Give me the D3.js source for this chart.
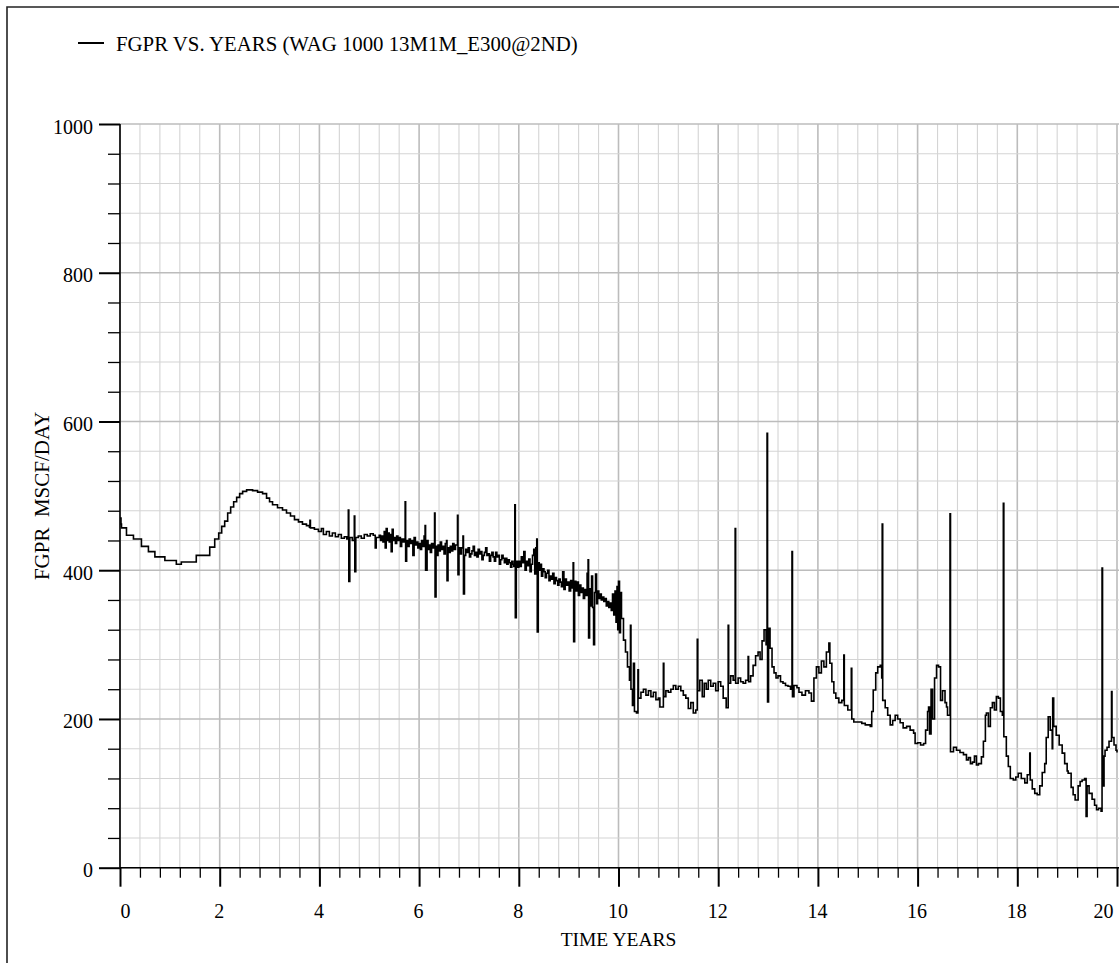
<!DOCTYPE html>
<html>
<head>
<meta charset="utf-8">
<script src="https://cdn.jsdelivr.net/npm/d3@7"></script>
<style>
  html, body { margin: 0; padding: 0; background: #fff; }
  svg { display: block; }
  text { font-family: "Liberation Serif", "Times New Roman", serif; fill: #000; }
</style>
</head>
<body>
<svg id="chart" width="1119" height="963"></svg>
<script>
// Tick definitions
const yearMajorTicks = [0, 2, 4, 6, 8, 10, 12, 14, 16, 18, 20];
const rateMajorTicks = [0, 200, 400, 600, 800, 1000];
const yearMinorStep = 0.4;
const rateMinorStep = 40;

const seriesLabel = "FGPR VS. YEARS (WAG 1000 13M1M_E300@2ND)";
const xTitle = "TIME YEARS";
const yTitle = "FGPR  MSCF/DAY";

// Field gas production rate: [time in years, rate in MSCF/DAY]
const fgprByYear = [
  [0.00,470],[0.02,462],[0.03,457],[0.13,447],[0.27,442],[0.43,432],[0.57,425],[0.70,418],
  [0.90,413],[1.13,408],[1.23,411],[1.53,420],[1.80,431],[1.90,442],[1.98,450],
  [2.04,459],[2.10,466],[2.16,477],[2.22,485],[2.28,492],[2.34,498],[2.40,503],[2.46,506],
  [2.54,508],[2.66,507],[2.76,505],[2.86,503],[2.94,497],[3.00,492],[3.06,488],
  [3.16,484],[3.26,481],[3.34,477],[3.42,473],[3.50,468],[3.58,465],[3.66,462],[3.74,460],
  [3.80,458],[3.81,467],[3.82,457],[3.90,455],[3.98,452],[4.04,456],[4.08,448],
  [4.14,452],[4.20,446],[4.26,450],[4.32,445],[4.38,448],[4.44,443],[4.50,445],[4.55,442],
  [4.58,481],[4.59,385],[4.61,444],[4.66,440],[4.70,473],[4.71,398],[4.73,444],
  [4.78,446],[4.84,443],[4.90,448],[4.96,446],[5.02,449],[5.08,447],[5.12,430],[5.14,444],
  [5.200,447],[5.225,440],[5.250,446],[5.275,438],[5.300,452],[5.320,430],[5.340,456],[5.360,440],
  [5.380,450],[5.400,438],[5.420,448],[5.440,425],[5.460,455],[5.480,440],[5.500,444],[5.525,436],
  [5.550,446],[5.575,440],[5.600,444],[5.625,432],[5.650,442],[5.675,438],[5.700,442],[5.720,492],
  [5.730,412],[5.750,440],[5.775,432],[5.800,442],[5.825,436],[5.850,440],[5.875,420],[5.900,444],
  [5.925,434],[5.950,438],[5.975,430],[6.000,436],[6.025,428],[6.050,440],[6.075,432],[6.100,446],
  [6.120,460],[6.130,400],[6.160,440],[6.180,428],[6.200,434],[6.225,424],[6.250,436],[6.280,430],
  [6.310,477],[6.320,364],[6.340,432],[6.360,420],[6.380,434],[6.400,426],[6.425,438],[6.450,428],
  [6.475,432],[6.500,422],[6.525,436],[6.550,440],[6.560,386],[6.580,430],[6.600,424],[6.625,432],
  [6.650,426],[6.675,436],[6.700,428],[6.730,434],[6.770,474],[6.780,394],[6.800,430],[6.825,422],
  [6.850,430],[6.880,446],[6.890,368],[6.910,420],[6.935,428],[6.960,424],[6.985,430],[7.010,418],
  [7.035,422],[7.060,426],[7.085,432],[7.110,420],[7.135,424],[7.160,418],[7.185,428],[7.210,422],
  [7.235,425],[7.260,414],[7.285,420],[7.310,424],[7.335,430],[7.360,420],[7.385,422],[7.410,412],
  [7.435,420],[7.460,424],[7.485,418],[7.510,412],[7.535,424],[7.560,418],[7.585,420],[7.610,408],
  [7.635,414],[7.660,420],[7.685,416],[7.710,410],[7.735,416],[7.760,408],[7.785,414],[7.810,410],
  [7.835,404],[7.860,412],[7.885,408],[7.900,405],[7.920,488],[7.930,336],[7.950,412],[7.975,404],
  [8.000,412],[8.025,405],[8.050,418],[8.075,410],[8.100,425],[8.125,400],[8.150,412],[8.175,406],
  [8.200,415],[8.225,398],[8.250,408],[8.275,420],[8.300,428],[8.320,395],[8.340,430],[8.360,442],
  [8.370,317],[8.390,410],[8.410,400],[8.430,408],[8.455,392],[8.480,402],[8.505,398],[8.530,390],
  [8.555,396],[8.580,400],[8.605,386],[8.630,392],[8.655,388],[8.680,396],[8.705,382],[8.730,390],
  [8.755,386],[8.780,380],[8.805,388],[8.830,384],[8.855,378],[8.880,398],[8.905,374],[8.930,388],
  [8.955,380],[8.980,384],[9.010,372],[9.040,386],[9.070,376],[9.090,410],[9.100,304],[9.120,385],
  [9.145,372],[9.170,384],[9.195,366],[9.220,380],[9.245,370],[9.270,376],[9.295,362],[9.320,374],
  [9.350,366],[9.370,396],[9.390,414],[9.400,309],[9.420,375],[9.440,352],[9.460,392],[9.480,350],
  [9.500,300],[9.520,370],[9.540,395],[9.560,355],[9.580,372],[9.605,362],[9.630,368],[9.655,360],
  [9.680,364],[9.705,358],[9.730,362],[9.755,352],[9.780,358],[9.805,350],[9.830,356],[9.855,346],
  [9.880,368],[9.905,340],[9.930,372],[9.950,330],[9.970,378],[9.985,320],[10.000,385],[10.020,316],
  [10.040,370],[10.060,335],[10.10,306],[10.14,290],
  [10.18,270],[10.22,252],[10.24,326],[10.25,240],[10.28,218],[10.30,275],[10.32,210],[10.36,208],
  [10.39,266],[10.40,228],[10.45,236],[10.50,240],[10.55,232],[10.60,238],[10.65,230],
  [10.70,236],[10.75,226],[10.80,228],[10.83,216],[10.90,275],[10.91,230],[10.95,238],[11.00,236],
  [11.05,240],[11.10,245],[11.15,240],[11.20,244],[11.25,238],[11.30,232],[11.35,228],
  [11.40,214],[11.45,222],[11.50,208],[11.55,212],[11.58,307],[11.59,238],[11.63,252],[11.68,230],
  [11.72,248],[11.76,240],[11.80,252],[11.85,244],[11.90,248],[11.95,238],[12.00,250],
  [12.05,244],[12.10,228],[12.16,215],[12.20,326],[12.21,248],[12.25,258],[12.30,252],[12.34,456],
  [12.35,248],[12.40,255],[12.45,250],[12.50,248],[12.55,252],[12.60,284],[12.61,250],
  [12.65,258],[12.70,272],[12.75,285],[12.80,290],[12.84,280],[12.88,305],[12.92,320],[12.96,300],
  [12.98,584],[12.99,223],[13.01,322],[13.04,295],[13.08,270],[13.12,262],[13.16,255],
  [13.20,258],[13.25,250],[13.30,248],[13.35,245],[13.40,244],[13.45,240],[13.48,425],[13.49,230],
  [13.52,245],[13.58,242],[13.62,236],[13.68,232],[13.75,238],[13.82,235],[13.87,224],
  [13.92,255],[13.97,270],[14.02,262],[14.07,278],[14.12,270],[14.17,290],[14.22,302],[14.24,275],
  [14.28,250],[14.32,235],[14.36,228],[14.42,222],[14.48,225],[14.52,286],[14.53,218],
  [14.60,212],[14.67,268],[14.68,200],[14.72,196],[14.80,196],[14.88,194],[14.95,192],[15.05,190],
  [15.08,210],[15.11,239],[15.16,262],[15.20,270],[15.25,272],[15.28,255],[15.29,462],
  [15.30,225],[15.35,215],[15.40,205],[15.45,192],[15.50,198],[15.55,205],[15.60,200],[15.65,195],
  [15.71,188],[15.78,190],[15.85,185],[15.92,181],[15.95,167],[16.00,168],[16.06,165],
  [16.12,167],[16.16,185],[16.20,210],[16.22,216],[16.24,180],[16.27,240],[16.30,200],[16.34,255],
  [16.38,272],[16.42,270],[16.46,225],[16.50,238],[16.55,222],[16.58,216],[16.60,205],
  [16.65,476],[16.66,156],[16.72,162],[16.78,158],[16.85,155],[16.92,152],[16.98,145],[17.02,148],
  [17.06,140],[17.10,142],[17.14,150],[17.18,138],[17.22,140],[17.28,149],[17.32,170],
  [17.36,205],[17.38,208],[17.42,190],[17.46,215],[17.50,222],[17.54,212],[17.58,230],[17.62,228],
  [17.66,210],[17.70,205],[17.72,490],[17.73,176],[17.78,150],[17.82,136],[17.86,120],
  [17.92,118],[17.97,122],[18.02,127],[18.08,120],[18.15,114],[18.20,125],[18.25,154],[18.26,118],
  [18.30,106],[18.35,100],[18.40,98],[18.45,110],[18.50,128],[18.55,140],[18.58,175],
  [18.62,203],[18.66,185],[18.70,160],[18.71,228],[18.73,190],[18.78,178],[18.84,165],[18.90,154],
  [18.95,140],[19.00,130],[19.02,127],[19.08,108],[19.12,98],[19.16,91],[19.22,110],
  [19.26,116],[19.30,118],[19.35,120],[19.38,69],[19.40,110],[19.44,100],[19.50,92],[19.55,84],
  [19.59,78],[19.63,80],[19.68,76],[19.70,403],[19.71,110],[19.74,150],[19.76,158],
  [19.80,162],[19.84,170],[19.89,237],[19.90,175],[19.94,165],[19.98,158],[20.00,155]
];

const series = fgprByYear.map(([t, v]) => ({ t, v }));

const svg = d3.select("#chart");
const W = 1119, H = 963;
const plotLeft = 120, plotRight = 1117, plotTop = 124, plotBottom = 867.7;

const x = d3.scaleLinear().domain([0, 20]).range([plotLeft, plotRight]);
const y = d3.scaleLinear().domain([0, 1000]).range([plotBottom, plotTop]);

// Outer frame
svg.append("path")
  .attr("d", `M7,${H + 5} V7 H${W + 5}`)
  .attr("fill", "none")
  .attr("stroke", "#222")
  .attr("stroke-width", 1.6);

// Grid
const yearGrid = d3.range(0, 20 + 1e-9, yearMinorStep);
const rateGrid = d3.range(0, 1000 + 1e-9, rateMinorStep);
const isMajorYear = t => Math.abs(t / 2 - Math.round(t / 2)) < 1e-6;
const isMajorRate = v => Math.abs(v / 200 - Math.round(v / 200)) < 1e-6;

const grid = svg.append("g");
grid.selectAll("line.vg").data(yearGrid).join("line")
  .attr("class", "vg")
  .attr("x1", d => x(d)).attr("x2", d => x(d))
  .attr("y1", plotTop).attr("y2", plotBottom)
  .attr("stroke", d => isMajorYear(d) ? "#bcbcbc" : "#d4d4d4")
  .attr("stroke-width", d => isMajorYear(d) ? 1.6 : 1.1);
grid.selectAll("line.hg").data(rateGrid).join("line")
  .attr("class", "hg")
  .attr("y1", d => y(d)).attr("y2", d => y(d))
  .attr("x1", plotLeft).attr("x2", W)
  .attr("stroke", d => isMajorRate(d) ? "#bcbcbc" : "#d4d4d4")
  .attr("stroke-width", d => isMajorRate(d) ? 1.6 : 1.1);

// Series line (stepped, as reported per timestep)
svg.append("defs").append("clipPath").attr("id", "plotClip")
  .append("rect").attr("x", plotLeft).attr("y", plotTop - 2)
  .attr("width", W - plotLeft).attr("height", plotBottom - plotTop + 4);

const line = d3.line()
  .x(d => x(d.t)).y(d => y(d.v))
  .curve(d3.curveStepAfter);
svg.append("path")
  .datum(series)
  .attr("clip-path", "url(#plotClip)")
  .attr("d", line)
  .attr("fill", "none")
  .attr("stroke", "#000")
  .attr("stroke-width", 1.6)
  .attr("stroke-linejoin", "miter");

// Axes: minor ticks
const yearMinor = yearGrid.filter(t => !isMajorYear(t));
const rateMinor = rateGrid.filter(v => !isMajorRate(v));

svg.append("g").attr("transform", `translate(0,${plotBottom})`)
  .call(d3.axisBottom(x).tickValues(yearMinor).tickSize(10).tickFormat(""))
  .call(g => g.select(".domain").remove())
  .call(g => g.selectAll("line").attr("stroke", "#000").attr("stroke-width", 1.3));

svg.append("g").attr("transform", `translate(${plotLeft},0)`)
  .call(d3.axisLeft(y).tickValues(rateMinor).tickSize(12).tickFormat(""))
  .call(g => g.select(".domain").remove())
  .call(g => g.selectAll("line").attr("stroke", "#000").attr("stroke-width", 1.3));

// Axes: major ticks and labels
const xAxis = svg.append("g").attr("transform", `translate(0,${plotBottom})`)
  .call(d3.axisBottom(x).tickValues(yearMajorTicks).tickSize(19).tickSizeOuter(0).tickFormat(d3.format("d")));
xAxis.select(".domain").attr("d", `M${plotLeft},0H${W}`).attr("stroke", "#000").attr("stroke-width", 1.6);
xAxis.selectAll("line").attr("stroke", "#000").attr("stroke-width", 2);
xAxis.selectAll("text")
  .attr("y", 50).attr("dy", null)
  .style("font-size", "20px")
  .attr("text-anchor", d => d === 0 ? "start" : (d === 20 ? "end" : "middle"))
  .attr("dx", d => d === 0 ? 0 : (d === 20 ? -4 : -1));

const yAxis = svg.append("g").attr("transform", `translate(${plotLeft},0)`)
  .call(d3.axisLeft(y).tickValues(rateMajorTicks).tickSize(21).tickSizeOuter(0).tickFormat(d3.format("d")));
yAxis.select(".domain").attr("d", `M0,${plotTop}V${plotBottom}`).attr("stroke", "#000").attr("stroke-width", 1.6);
yAxis.selectAll("line").attr("stroke", "#000").attr("stroke-width", 2);
yAxis.selectAll("text")
  .attr("x", -27).attr("dy", null).attr("y", 9)
  .style("font-size", "20px");

// Axis titles
svg.append("text")
  .attr("x", (plotLeft + plotRight) / 2).attr("y", 946)
  .attr("text-anchor", "middle")
  .style("font-size", "19.5px")
  .text(xTitle);

svg.append("text")
  .attr("transform", `translate(49,${(plotTop + plotBottom) / 2}) rotate(-90)`)
  .attr("text-anchor", "middle")
  .style("font-size", "21px")
  .style("white-space", "pre")
  .text(yTitle);

// Legend
svg.append("line")
  .attr("x1", 78).attr("x2", 104).attr("y1", 43).attr("y2", 43)
  .attr("stroke", "#000").attr("stroke-width", 2);
svg.append("text")
  .attr("x", 116).attr("y", 51)
  .style("font-size", "20.8px")
  .text(seriesLabel);
</script>
</body>
</html>
